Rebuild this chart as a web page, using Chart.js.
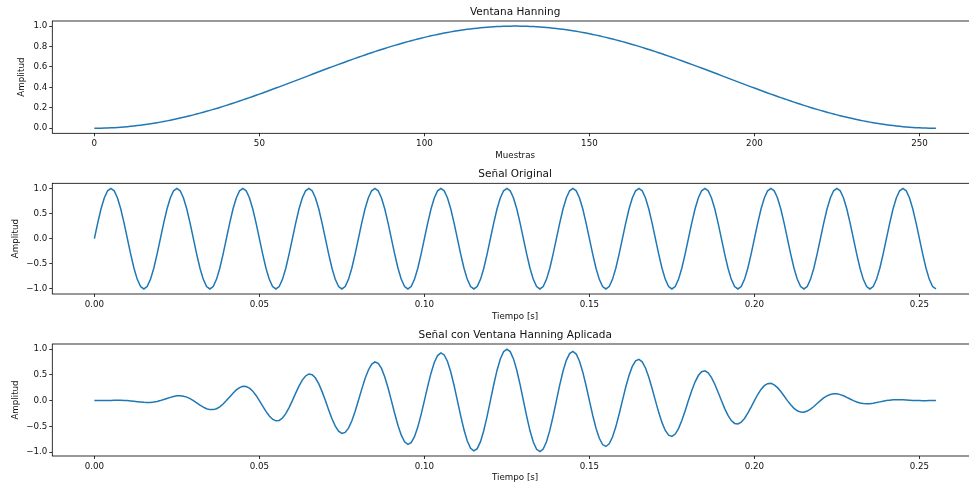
<!DOCTYPE html>
<html><head><meta charset="utf-8">
<script src="https://cdn.jsdelivr.net/npm/chart.js@4"></script>
<style>
html,body{margin:0;padding:0;background:#fff;overflow:hidden;width:969px;height:486px;position:relative;}
canvas.c{position:absolute;left:0;}
</style></head><body>
<canvas id="c1" class="c" width="978" height="164" style="top:0px"></canvas>
<canvas id="c2" class="c" width="978" height="161" style="top:164px"></canvas>
<canvas id="c3" class="c" width="978" height="161" style="top:325px"></canvas>
<script>
// ---- data ----
const muestras = [
0,1,2,3,4,5,6,7,8,9,10,11,12,13,14,15,16,17,18,19,
20,21,22,23,24,25,26,27,28,29,30,31,32,33,34,35,36,37,38,39,
40,41,42,43,44,45,46,47,48,49,50,51,52,53,54,55,56,57,58,59,
60,61,62,63,64,65,66,67,68,69,70,71,72,73,74,75,76,77,78,79,
80,81,82,83,84,85,86,87,88,89,90,91,92,93,94,95,96,97,98,99,
100,101,102,103,104,105,106,107,108,109,110,111,112,113,114,115,116,117,118,119,
120,121,122,123,124,125,126,127,128,129,130,131,132,133,134,135,136,137,138,139,
140,141,142,143,144,145,146,147,148,149,150,151,152,153,154,155,156,157,158,159,
160,161,162,163,164,165,166,167,168,169,170,171,172,173,174,175,176,177,178,179,
180,181,182,183,184,185,186,187,188,189,190,191,192,193,194,195,196,197,198,199,
200,201,202,203,204,205,206,207,208,209,210,211,212,213,214,215,216,217,218,219,
220,221,222,223,224,225,226,227,228,229,230,231,232,233,234,235,236,237,238,239,
240,241,242,243,244,245,246,247,248,249,250,251,252,253,254,255];

const tiempo = [
0.000,0.001,0.002,0.003,0.004,0.005,0.006,0.007,0.008,0.009,0.010,0.011,0.012,0.013,0.014,0.015,0.016,0.017,0.018,0.019,
0.020,0.021,0.022,0.023,0.024,0.025,0.026,0.027,0.028,0.029,0.030,0.031,0.032,0.033,0.034,0.035,0.036,0.037,0.038,0.039,
0.040,0.041,0.042,0.043,0.044,0.045,0.046,0.047,0.048,0.049,0.050,0.051,0.052,0.053,0.054,0.055,0.056,0.057,0.058,0.059,
0.060,0.061,0.062,0.063,0.064,0.065,0.066,0.067,0.068,0.069,0.070,0.071,0.072,0.073,0.074,0.075,0.076,0.077,0.078,0.079,
0.080,0.081,0.082,0.083,0.084,0.085,0.086,0.087,0.088,0.089,0.090,0.091,0.092,0.093,0.094,0.095,0.096,0.097,0.098,0.099,
0.100,0.101,0.102,0.103,0.104,0.105,0.106,0.107,0.108,0.109,0.110,0.111,0.112,0.113,0.114,0.115,0.116,0.117,0.118,0.119,
0.120,0.121,0.122,0.123,0.124,0.125,0.126,0.127,0.128,0.129,0.130,0.131,0.132,0.133,0.134,0.135,0.136,0.137,0.138,0.139,
0.140,0.141,0.142,0.143,0.144,0.145,0.146,0.147,0.148,0.149,0.150,0.151,0.152,0.153,0.154,0.155,0.156,0.157,0.158,0.159,
0.160,0.161,0.162,0.163,0.164,0.165,0.166,0.167,0.168,0.169,0.170,0.171,0.172,0.173,0.174,0.175,0.176,0.177,0.178,0.179,
0.180,0.181,0.182,0.183,0.184,0.185,0.186,0.187,0.188,0.189,0.190,0.191,0.192,0.193,0.194,0.195,0.196,0.197,0.198,0.199,
0.200,0.201,0.202,0.203,0.204,0.205,0.206,0.207,0.208,0.209,0.210,0.211,0.212,0.213,0.214,0.215,0.216,0.217,0.218,0.219,
0.220,0.221,0.222,0.223,0.224,0.225,0.226,0.227,0.228,0.229,0.230,0.231,0.232,0.233,0.234,0.235,0.236,0.237,0.238,0.239,
0.240,0.241,0.242,0.243,0.244,0.245,0.246,0.247,0.248,0.249,0.250,0.251,0.252,0.253,0.254,0.255];

const hanning = [
0,0.0002,0.0006,0.0014,0.0024,0.0038,0.0055,0.0074,0.0097,0.0122,
0.0151,0.0183,0.0217,0.0254,0.0295,0.0338,0.0384,0.0432,0.0484,0.0538,
0.0595,0.0655,0.0717,0.0782,0.0849,0.0919,0.0991,0.1066,0.1144,0.1223,
0.1305,0.1389,0.1475,0.1564,0.1654,0.1747,0.1841,0.1938,0.2036,0.2136,
0.2238,0.2342,0.2447,0.2554,0.2662,0.2771,0.2882,0.2995,0.3108,0.3223,
0.3338,0.3455,0.3573,0.3691,0.3810,0.3930,0.4051,0.4172,0.4294,0.4416,
0.4539,0.4662,0.4785,0.4908,0.5031,0.5154,0.5277,0.5400,0.5523,0.5645,
0.5767,0.5889,0.6010,0.6130,0.6250,0.6368,0.6487,0.6604,0.6720,0.6835,
0.6949,0.7062,0.7173,0.7284,0.7393,0.7500,0.7606,0.7710,0.7813,0.7914,
0.8013,0.8111,0.8206,0.8300,0.8391,0.8481,0.8568,0.8653,0.8736,0.8817,
0.8896,0.8971,0.9045,0.9116,0.9185,0.9251,0.9315,0.9376,0.9434,0.9489,
0.9542,0.9592,0.9640,0.9684,0.9726,0.9765,0.9801,0.9834,0.9864,0.9891,
0.9915,0.9936,0.9954,0.9969,0.9981,0.9990,0.9997,1.0000,1.0000,0.9997,
0.9990,0.9981,0.9969,0.9954,0.9936,0.9915,0.9891,0.9864,0.9834,0.9801,
0.9765,0.9726,0.9684,0.9640,0.9592,0.9542,0.9489,0.9434,0.9376,0.9315,
0.9251,0.9185,0.9116,0.9045,0.8971,0.8896,0.8817,0.8736,0.8653,0.8568,
0.8481,0.8391,0.8300,0.8206,0.8111,0.8013,0.7914,0.7813,0.7710,0.7606,
0.7500,0.7393,0.7284,0.7173,0.7062,0.6949,0.6835,0.6720,0.6604,0.6487,
0.6368,0.6250,0.6130,0.6010,0.5889,0.5767,0.5645,0.5523,0.5400,0.5277,
0.5154,0.5031,0.4908,0.4785,0.4662,0.4539,0.4416,0.4294,0.4172,0.4051,
0.3930,0.3810,0.3691,0.3573,0.3455,0.3338,0.3223,0.3108,0.2995,0.2882,
0.2771,0.2662,0.2554,0.2447,0.2342,0.2238,0.2136,0.2036,0.1938,0.1841,
0.1747,0.1654,0.1564,0.1475,0.1389,0.1305,0.1223,0.1144,0.1066,0.0991,
0.0919,0.0849,0.0782,0.0717,0.0655,0.0595,0.0538,0.0484,0.0432,0.0384,
0.0338,0.0295,0.0254,0.0217,0.0183,0.0151,0.0122,0.0097,0.0074,0.0055,
0.0038,0.0024,0.0014,0.0006,0.0002,0];

const senal = [
0,0.309,0.588,0.809,0.951,1,0.951,0.809,0.588,0.309,
0,-0.309,-0.588,-0.809,-0.951,-1,-0.951,-0.809,-0.588,-0.309,
0,0.309,0.588,0.809,0.951,1,0.951,0.809,0.588,0.309,
0,-0.309,-0.588,-0.809,-0.951,-1,-0.951,-0.809,-0.588,-0.309,
0,0.309,0.588,0.809,0.951,1,0.951,0.809,0.588,0.309,
0,-0.309,-0.588,-0.809,-0.951,-1,-0.951,-0.809,-0.588,-0.309,
0,0.309,0.588,0.809,0.951,1,0.951,0.809,0.588,0.309,
0,-0.309,-0.588,-0.809,-0.951,-1,-0.951,-0.809,-0.588,-0.309,
0,0.309,0.588,0.809,0.951,1,0.951,0.809,0.588,0.309,
0,-0.309,-0.588,-0.809,-0.951,-1,-0.951,-0.809,-0.588,-0.309,
0,0.309,0.588,0.809,0.951,1,0.951,0.809,0.588,0.309,
0,-0.309,-0.588,-0.809,-0.951,-1,-0.951,-0.809,-0.588,-0.309,
0,0.309,0.588,0.809,0.951,1,0.951,0.809,0.588,0.309,
0,-0.309,-0.588,-0.809,-0.951,-1,-0.951,-0.809,-0.588,-0.309,
0,0.309,0.588,0.809,0.951,1,0.951,0.809,0.588,0.309,
0,-0.309,-0.588,-0.809,-0.951,-1,-0.951,-0.809,-0.588,-0.309,
0,0.309,0.588,0.809,0.951,1,0.951,0.809,0.588,0.309,
0,-0.309,-0.588,-0.809,-0.951,-1,-0.951,-0.809,-0.588,-0.309,
0,0.309,0.588,0.809,0.951,1,0.951,0.809,0.588,0.309,
0,-0.309,-0.588,-0.809,-0.951,-1,-0.951,-0.809,-0.588,-0.309,
0,0.309,0.588,0.809,0.951,1,0.951,0.809,0.588,0.309,
0,-0.309,-0.588,-0.809,-0.951,-1,-0.951,-0.809,-0.588,-0.309,
0,0.309,0.588,0.809,0.951,1,0.951,0.809,0.588,0.309,
0,-0.309,-0.588,-0.809,-0.951,-1,-0.951,-0.809,-0.588,-0.309,
0,0.309,0.588,0.809,0.951,1,0.951,0.809,0.588,0.309,
0,-0.309,-0.588,-0.809,-0.951,-1];

const senalVentana = [
0,0,0,0.001,0.002,0.004,0.005,0.006,0.006,0.004,
0,-0.006,-0.013,-0.021,-0.028,-0.034,-0.036,-0.035,-0.028,-0.017,
0,0.020,0.042,0.063,0.081,0.092,0.094,0.086,0.067,0.038,
0,-0.043,-0.087,-0.127,-0.157,-0.175,-0.175,-0.157,-0.120,-0.066,
0,0.072,0.144,0.207,0.253,0.277,0.274,0.242,0.183,0.100,
0,-0.107,-0.210,-0.299,-0.362,-0.393,-0.385,-0.338,-0.252,-0.136,
0,0.144,0.281,0.397,0.478,0.515,0.502,0.437,0.325,0.174,
0,-0.182,-0.353,-0.496,-0.594,-0.637,-0.617,-0.534,-0.395,-0.211,
0,0.218,0.422,0.589,0.703,0.750,0.723,0.624,0.459,0.245,
0,-0.251,-0.482,-0.671,-0.798,-0.848,-0.815,-0.700,-0.514,-0.272,
0,0.277,0.532,0.738,0.874,0.925,0.886,0.759,0.555,0.293,
0,-0.296,-0.567,-0.783,-0.925,-0.976,-0.932,-0.796,-0.580,-0.306,
0,0.307,0.585,0.807,0.949,0.999,0.951,0.809,0.588,0.309,
0,-0.308,-0.586,-0.805,-0.945,-0.991,-0.941,-0.798,-0.578,-0.303,
0,0.301,0.569,0.780,0.912,0.954,0.903,0.763,0.551,0.288,
0,-0.284,-0.536,-0.732,-0.853,-0.890,-0.839,-0.707,-0.509,-0.265,
0,0.259,0.488,0.664,0.771,0.801,0.753,0.632,0.453,0.235,
0,-0.228,-0.428,-0.580,-0.672,-0.695,-0.650,-0.544,-0.388,-0.200,
0,0.193,0.360,0.486,0.560,0.577,0.537,0.447,0.317,0.163,
0,-0.155,-0.288,-0.387,-0.443,-0.454,-0.420,-0.347,-0.245,-0.125,
0,0.118,0.217,0.289,0.329,0.334,0.306,0.251,0.176,0.089,
0,-0.082,-0.150,-0.198,-0.223,-0.224,-0.203,-0.165,-0.114,-0.057,
0,0.051,0.092,0.119,0.132,0.131,0.116,0.093,0.063,0.031,
0,-0.026,-0.046,-0.058,-0.062,-0.059,-0.051,-0.039,-0.025,-0.012,
0,0.009,0.015,0.018,0.017,0.015,0.012,0.008,0.004,0.002,
0,-0.001,-0.001,0,0,0];

const ticksMuestras = [0, 50, 100, 150, 200, 250];
const ticksMuestrasLbl = ['0', '50', '100', '150', '200', '250'];
const ticksTiempo = [0, 0.05, 0.10, 0.15, 0.20, 0.25];
const ticksTiempoLbl = ['0.00', '0.05', '0.10', '0.15', '0.20', '0.25'];
const ticksHann = [0, 0.2, 0.4, 0.6, 0.8, 1.0];
const ticksHannLbl = ['0.0', '0.2', '0.4', '0.6', '0.8', '1.0'];
const ticksAmp = [-1, -0.5, 0, 0.5, 1];
const ticksAmpLbl = ['\u22121.0', '\u22120.5', '0.0', '0.5', '1.0'];

// ---- drawing ----
const FONT = "'DejaVu Sans', sans-serif";
const TXT = '#111';

const framePlugin = {
  id: 'frame',
  afterDraw(chart) {
    const {ctx, chartArea: a} = chart;
    ctx.save();
    ctx.strokeStyle = '#000';
    ctx.lineWidth = 0.8;
    ctx.strokeRect(a.left, a.top, a.right - a.left, a.bottom - a.top);
    ctx.restore();
  }
};

function makeChart(id, c) {
  return new Chart(document.getElementById(id), {
    type: 'line',
    data: {
      labels: c.labels,
      datasets: [{
        data: c.values,
        borderColor: '#1f77b4',
        borderWidth: 1.5,
        pointRadius: 0,
        pointHoverRadius: 0,
        fill: false,
        tension: 0
      }]
    },
    options: {
      responsive: false,
      animation: false,
      devicePixelRatio: 1,
      events: [],
      layout: {padding: {left: 0, right: 0, top: 0, bottom: 0}},
      plugins: {
        legend: {display: false},
        tooltip: {enabled: false},
        title: {
          display: true, text: c.title, color: TXT, fullSize: false,
          font: {family: FONT, size: 10.5, weight: 'normal', lineHeight: 1.2},
          padding: {top: c.titleTop, bottom: 2.7}
        }
      },
      scales: {
        x: {
          type: 'linear', min: c.xMin, max: c.xMax,
          afterBuildTicks: s => { s.ticks = c.xTicks.map(v => ({value: v})); },
          afterFit: s => { s.height = c.xAxisH; },
          grid: {display: true, drawOnChartArea: false, drawTicks: true, tickLength: 3, tickWidth: 0.8, tickColor: '#000'},
          border: {display: false},
          ticks: {padding: 2.5, color: TXT, autoSkip: false, maxRotation: 0,
                  font: {family: FONT, size: 8.7, lineHeight: 1.2},
                  callback: (v, i) => c.xLbl[i]},
          title: {display: true, text: c.xTitle, color: TXT,
                  font: {family: FONT, size: 8.7, lineHeight: 1.2},
                  padding: {top: 0, bottom: 3.4}}
        },
        y: {
          type: 'linear', min: c.yMin, max: c.yMax,
          afterBuildTicks: s => { s.ticks = c.yTicks.map(v => ({value: v})); },
          afterFit: s => { s.width = 52.3; },
          grid: {display: true, drawOnChartArea: false, drawTicks: true, tickLength: 3, tickWidth: 0.8, tickColor: '#000'},
          border: {display: false},
          ticks: {padding: 2, color: TXT, autoSkip: false,
                  font: {family: FONT, size: 8.7, lineHeight: 1.2},
                  callback: (v, i) => c.yLbl[i]},
          title: {display: true, text: 'Amplitud', color: TXT,
                  font: {family: FONT, size: 8.7, lineHeight: 1.2},
                  padding: {top: c.yTitlePad, bottom: 0}}
        }
      }
    },
    plugins: [framePlugin]
  });
}

makeChart('c1', {
  labels: muestras, values: hanning, title: 'Ventana Hanning', titleTop: 5.7,
  xTitle: 'Muestras', xMin: -12.75, xMax: 267.75, xTicks: ticksMuestras, xLbl: ticksMuestrasLbl,
  yMin: -0.05, yMax: 1.05, yTicks: ticksHann, yLbl: ticksHannLbl, xAxisH: 30.7, yTitlePad: 16.8
});
makeChart('c2', {
  labels: tiempo, values: senal, title: 'Señal Original', titleTop: 4.0,
  xTitle: 'Tiempo [s]', xMin: -0.01275, xMax: 0.26775, xTicks: ticksTiempo, xLbl: ticksTiempoLbl,
  yMin: -1.1, yMax: 1.1, yTicks: ticksAmp, yLbl: ticksAmpLbl, xAxisH: 31, yTitlePad: 10.3
});
makeChart('c3', {
  labels: tiempo, values: senalVentana, title: 'Señal con Ventana Hanning Aplicada', titleTop: 3.7,
  xTitle: 'Tiempo [s]', xMin: -0.01275, xMax: 0.26775, xTicks: ticksTiempo, xLbl: ticksTiempoLbl,
  yMin: -1.075, yMax: 1.098, yTicks: ticksAmp, yLbl: ticksAmpLbl, xAxisH: 30, yTitlePad: 10.3
});
</script>
</body></html>
